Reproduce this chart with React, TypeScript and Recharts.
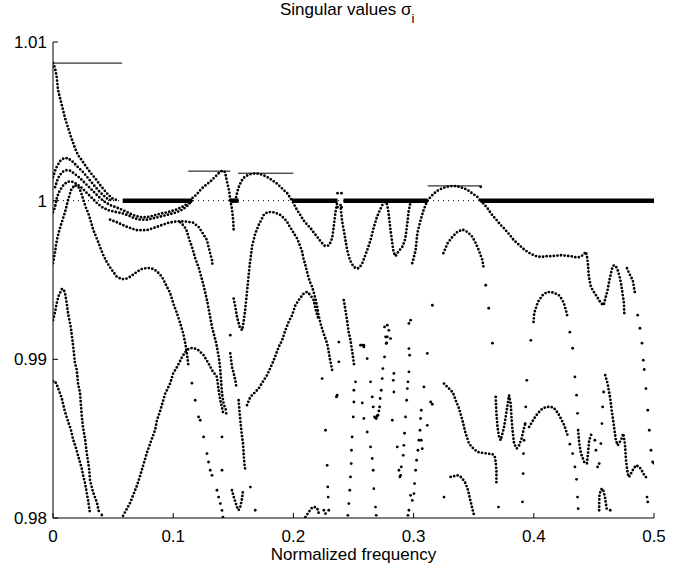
import React from 'react';
import { ComposedChart, Line, Scatter, XAxis, YAxis, ReferenceLine } from 'recharts';

type P = [number, number];

const xTicks = [0, 0.1, 0.2, 0.3, 0.4, 0.5];
const yTicks = [0.98, 0.99, 1, 1.01];
const unitLevel = 1;

// spans where several singular values sit on 1 (drawn as the thick band)
const unitSpans: [number, number][] = [[0.058, 0.1156], [0.1475, 0.1544], [0.1989, 0.2367], [0.2417, 0.3117], [0.3558, 0.5]];
// thin horizontal lines marking the local maxima
const peakLines: [number, number, number][] = [[0, 0.0575, 1.00867], [0.1125, 0.1475, 1.00186], [0.154, 0.2, 1.00173], [0.3117, 0.3567, 1.00093]];

const c1: P[] = [[0,1.00867],[0.0017,1.00835],[0.0031,1.00779],[0.0042,1.00697],[0.0073,1.00603],[0.01,1.0052],[0.015,1.00401],[0.0183,1.00331],[0.0208,1.00287],[0.0239,1.00255],[0.0267,1.00224],[0.0308,1.0018],[0.035,1.00142],[0.0392,1.00098],[0.0448,1.00047],[0.0489,1.00016],[0.0542,1]];
const h1: P[] = [[0,1.00148],[0.0025,1.00205],[0.0058,1.00249],[0.0092,1.00268],[0.0125,1.00268],[0.0167,1.00243],[0.0208,1.00211],[0.025,1.0018],[0.0292,1.00142],[0.0333,1.00104],[0.0375,1.00066],[0.0417,1.00035],[0.0458,1.00009],[0.05,1]];
const h2: P[] = [[0.0017,1.00085],[0.0042,1.00142],[0.0075,1.0018],[0.0108,1.00192],[0.0142,1.00189],[0.0183,1.00167],[0.0225,1.00142],[0.0267,1.0011],[0.0308,1.00079],[0.035,1.00047],[0.0392,1.00016],[0.0433,0.99991],[0.0475,0.99972],[0.0531,0.99956],[0.0573,0.99943],[0.062,0.99927],[0.067,0.99908],[0.0725,0.99896],[0.0781,0.99896],[0.0836,0.99905],[0.0892,0.99918],[0.0961,0.99929],[0.1031,0.99945],[0.1086,0.99965],[0.1128,0.99986],[0.1156,1]];
const h3: P[] = [[0,0.99927],[0.0017,0.99959],[0.0033,1.00022],[0.0058,1.00066],[0.0092,1.00104],[0.0125,1.0012],[0.0158,1.0012],[0.02,1.00104],[0.0242,1.00079],[0.0283,1.00047],[0.0325,1.00016],[0.0367,0.99984],[0.0408,0.99959],[0.0458,0.9994],[0.0531,0.99927],[0.0573,0.99921],[0.0625,0.99908],[0.0675,0.99889],[0.0725,0.9988],[0.0781,0.9988],[0.0836,0.99889],[0.0892,0.99899],[0.0958,0.99912],[0.1031,0.99927],[0.1083,0.99946],[0.1125,0.99972],[0.1156,1]];
const c4: P[] = [[0,0.99606],[0.0017,0.99675],[0.0025,0.99719],[0.0036,0.99764],[0.0053,0.99814],[0.0073,0.99864],[0.01,0.99927],[0.0125,1.00003],[0.015,1.00066],[0.0179,1.00098],[0.0211,1.00087],[0.0233,1.00054],[0.0253,1.00003],[0.0275,0.99953],[0.0294,0.9992],[0.0317,0.99864],[0.0336,0.99814],[0.0364,0.99762],[0.0392,0.99707],[0.0419,0.99656],[0.0448,0.99612],[0.0475,0.99579],[0.0503,0.99549],[0.0531,0.9952],[0.0573,0.99505],[0.0608,0.99508],[0.0642,0.9952],[0.0698,0.99551],[0.0733,0.99568],[0.0781,0.99576],[0.0817,0.99574],[0.085,0.99562],[0.0879,0.99543],[0.0906,0.9952],[0.0925,0.99492],[0.0948,0.99457],[0.0975,0.99417],[0.1,0.99354],[0.1031,0.99291],[0.1058,0.99228],[0.1083,0.99165],[0.11,0.99102],[0.1114,0.99039],[0.1128,0.98951]];
const c4Tail: P[] = [[0.1156,0.9885],[0.1183,0.98742],[0.1211,0.98637],[0.1225,0.98616],[0.1253,0.98511],[0.1281,0.98406],[0.1294,0.98353],[0.1308,0.98301],[0.1323,0.98269],[0.1364,0.98175],[0.1378,0.98132],[0.1392,0.98091],[0.1406,0.98048],[0.1414,0.98006]];
const c5: P[] = [[0,0.98862],[0.0017,0.98862],[0.0033,0.98837],[0.0058,0.98786],[0.0073,0.98755],[0.0092,0.98691],[0.0114,0.98635],[0.015,0.98553],[0.0167,0.98496],[0.0192,0.98439],[0.0208,0.98395],[0.0239,0.98313],[0.025,0.98269],[0.0267,0.98218],[0.0292,0.98111],[0.0308,0.98029]];
const c6: P[] = [[0,0.99247],[0.0017,0.99298],[0.0031,0.99354],[0.0046,0.99398],[0.0073,0.99442],[0.0088,0.99442],[0.01,0.99417],[0.0114,0.99354],[0.0125,0.99291],[0.0148,0.99203],[0.0167,0.99089],[0.0183,0.98976],[0.0198,0.98932],[0.0208,0.9885],[0.0225,0.98786],[0.0239,0.98648],[0.025,0.98572],[0.0267,0.98496],[0.0281,0.98408],[0.03,0.98313],[0.0308,0.98238],[0.0333,0.98163],[0.0364,0.981],[0.0383,0.98037]];
const v1: P[] = [[0.0583,0.98014],[0.0642,0.98096],[0.0698,0.98203],[0.0725,0.98266],[0.0781,0.98411],[0.0817,0.98487],[0.085,0.98556],[0.0864,0.98613],[0.0892,0.98676],[0.0933,0.98783],[0.0975,0.98849],[0.1,0.98912],[0.1031,0.9895],[0.1073,0.99013],[0.11,0.99045],[0.1125,0.99064],[0.1156,0.99072],[0.1183,0.99067],[0.1211,0.99057],[0.1253,0.99026],[0.1294,0.98974],[0.1323,0.98931],[0.1364,0.98889],[0.1378,0.98805],[0.1392,0.98742],[0.1414,0.98668],[0.1448,0.98658]];
const d3: P[] = [[0.0475,0.9988],[0.0531,0.99864],[0.0614,0.99835],[0.0698,0.99814],[0.0781,0.99814],[0.0864,0.99835],[0.0948,0.99858],[0.1,0.99866],[0.1058,0.99871],[0.1114,0.99868],[0.1167,0.99861],[0.1211,0.99835],[0.1239,0.99803],[0.1281,0.99751],[0.1294,0.99709],[0.1308,0.99667],[0.1323,0.99625],[0.1328,0.99583]];
const d3b: P[] = [[0.1058,0.99864],[0.1092,0.99839],[0.1114,0.99807],[0.1133,0.99757],[0.1156,0.99709],[0.1183,0.99637],[0.1211,0.99581],[0.1248,0.9948],[0.1281,0.99373],[0.1294,0.99322],[0.1308,0.99265],[0.1323,0.99202],[0.1336,0.99165],[0.1358,0.99102],[0.1378,0.99019],[0.1386,0.98975],[0.1392,0.98931],[0.1398,0.98868],[0.1406,0.98786],[0.1419,0.98723],[0.1433,0.9869],[0.1448,0.98668]];
const b1: P[] = [[0.1142,1],[0.1167,1.00022],[0.1198,1.00041],[0.1225,1.00066],[0.125,1.00085],[0.1281,1.00104],[0.1308,1.00119],[0.1333,1.00139],[0.1364,1.00161],[0.1383,1.00177],[0.1406,1.00188],[0.1425,1.00186],[0.1433,1.00173],[0.1448,1.00119],[0.1467,1.00055],[0.1475,1]];
const s1: P[] = [[0.1475,1],[0.1486,0.99959],[0.1494,0.99915],[0.15,0.99864],[0.1503,0.99814]];
const k1: P[] = [[0.1503,0.99383],[0.1517,0.9933],[0.1531,0.99267],[0.1553,0.99204],[0.1573,0.99183],[0.1586,0.99236],[0.16,0.9932],[0.1614,0.99425],[0.1636,0.99593],[0.1658,0.99719],[0.1683,0.99793],[0.1711,0.99846],[0.1753,0.99909],[0.1783,0.99927],[0.1823,0.99929],[0.1858,0.99921],[0.1892,0.99909],[0.1925,0.99887],[0.1948,0.99866],[0.1967,0.99839],[0.1989,0.99814],[0.2008,0.99789],[0.2031,0.99762],[0.2058,0.99709],[0.2073,0.99677],[0.2083,0.99637],[0.21,0.99593],[0.2114,0.99549],[0.2128,0.99509],[0.2142,0.9948],[0.2156,0.99456],[0.2169,0.99423],[0.2183,0.99383],[0.2198,0.9933],[0.2208,0.99284],[0.2225,0.99228],[0.225,0.99165],[0.2281,0.991],[0.2294,0.99047],[0.2303,0.99005],[0.2323,0.98931]];
const b2: P[] = [[0.1517,1],[0.1529,1.00041],[0.1542,1.00079],[0.1563,1.00117],[0.1583,1.00142],[0.1614,1.00158],[0.1642,1.00167],[0.1667,1.00171],[0.1698,1.00171],[0.1725,1.00167],[0.175,1.00161],[0.1783,1.00148],[0.1823,1.00129],[0.1858,1.0011],[0.1892,1.00087],[0.1925,1.00063],[0.1948,1.00047],[0.1967,1.00025],[0.1989,1],[0.2,0.99984],[0.2031,0.9994],[0.2058,0.99909],[0.2083,0.99877],[0.2114,0.99849],[0.2142,0.99827],[0.2167,0.99801],[0.2198,0.99772],[0.2225,0.99745],[0.2239,0.99732],[0.2258,0.99716],[0.2281,0.99713],[0.23,0.99723],[0.2323,0.99764],[0.2336,0.99839],[0.235,0.99927],[0.2367,1]];
const c8: P[] = [[0.2392,0.99972],[0.2404,0.99877],[0.2419,0.99814],[0.2433,0.99751],[0.2448,0.99688],[0.2463,0.99644],[0.2475,0.99619],[0.2496,0.9959],[0.2517,0.99574],[0.2542,0.99574],[0.2558,0.99587],[0.2573,0.99606],[0.2592,0.99644],[0.2614,0.99688],[0.2642,0.99751],[0.2667,0.99827],[0.2692,0.9989],[0.2708,0.99921],[0.2739,0.99972],[0.2767,1]];
const c9: P[] = [[0.2767,1],[0.2781,0.99972],[0.2792,0.99921],[0.2808,0.99814],[0.2823,0.99732],[0.2833,0.99675],[0.285,0.9965],[0.2864,0.99669],[0.2883,0.99688],[0.2906,0.99709],[0.2925,0.99745],[0.2933,0.99772],[0.2948,0.99858],[0.2958,0.99929],[0.2971,0.99978]];
const c10: P[] = [[0.2989,0.99606],[0.3,0.99637],[0.3017,0.99688],[0.3031,0.99795],[0.3058,0.99877],[0.3083,0.9994],[0.3114,1]];
const b3: P[] = [[0.3117,1],[0.3133,1.00016],[0.3156,1.00035],[0.3192,1.0006],[0.3225,1.00073],[0.325,1.00081],[0.3283,1.00088],[0.3323,1.00093],[0.3358,1.00091],[0.3392,1.00085],[0.3425,1.00076],[0.3458,1.00062],[0.3492,1.00044],[0.3531,1.00024],[0.3558,1]];
const e1: P[] = [[0.3558,1],[0.3586,0.99978],[0.3614,0.99953],[0.3642,0.99921],[0.3667,0.99898],[0.3698,0.99871],[0.3725,0.99846],[0.375,0.99827],[0.3781,0.99801],[0.3808,0.99776],[0.3833,0.99751],[0.3875,0.99723],[0.3917,0.99694],[0.3958,0.99672],[0.4,0.99656],[0.4033,0.99647],[0.4073,0.99646],[0.4108,0.9965],[0.4142,0.9965],[0.4183,0.99653],[0.4225,0.99656],[0.4267,0.99653],[0.4308,0.9965],[0.4342,0.99644],[0.4375,0.99644],[0.4408,0.99656],[0.4433,0.99677],[0.4442,0.9965],[0.445,0.99606],[0.4458,0.9952],[0.4475,0.99456],[0.4496,0.99429],[0.4517,0.99404],[0.4538,0.99379],[0.4558,0.99354],[0.4581,0.99341],[0.4596,0.99385],[0.4614,0.99436],[0.4629,0.99499],[0.4642,0.99543],[0.4654,0.99581],[0.4667,0.99593],[0.4683,0.99587],[0.4698,0.99562],[0.4713,0.99524],[0.4725,0.9948],[0.4738,0.99417],[0.475,0.99354],[0.4753,0.99291]];
const e2: P[] = [[0.3248,0.99669],[0.3283,0.99732],[0.3323,0.99772],[0.3364,0.99803],[0.3406,0.99818],[0.3448,0.99803],[0.3489,0.99772],[0.3517,0.99732],[0.3542,0.99688],[0.3573,0.99625],[0.3583,0.99574]];
const e2Steep: P[] = [[0.36,0.99467],[0.3625,0.99322],[0.3656,0.99102],[0.2975,0.98143],[0.2989,0.98111],[0.3003,0.98154],[0.3008,0.98217],[0.3017,0.98301],[0.3025,0.98364],[0.3036,0.98427],[0.3044,0.9849],[0.3053,0.98553],[0.3058,0.98627],[0.3064,0.98679],[0.3086,0.98826],[0.3114,0.99037],[0.3156,0.99341]];
const e5: P[] = [[0.3683,0.98763],[0.3689,0.98658],[0.3698,0.98574],[0.3711,0.98511],[0.3725,0.9849],[0.3739,0.98532],[0.3753,0.98574],[0.3775,0.98679],[0.3794,0.98773],[0.3808,0.98721],[0.3814,0.98637],[0.3823,0.98553],[0.3836,0.98469],[0.3858,0.98438],[0.3878,0.98458],[0.3898,0.985],[0.3914,0.98553],[0.3933,0.98605]];
const e4: P[] = [[0.3961,0.98574],[0.3975,0.98591],[0.4003,0.98627],[0.4031,0.98658],[0.4073,0.9869],[0.4108,0.987],[0.4142,0.987],[0.4164,0.98696],[0.4183,0.98679],[0.4203,0.98658],[0.4225,0.98627],[0.4253,0.98585],[0.4281,0.98522]];
const e4Tail: P[] = [[0.43,0.98465],[0.4323,0.98406],[0.4342,0.98322],[0.4356,0.98244],[0.4364,0.98132],[0.4369,0.98059]];
const e3Steep: P[] = [[0.3906,0.98101],[0.3911,0.9828],[0.3914,0.98406],[0.3919,0.9849],[0.3928,0.98595],[0.3933,0.987],[0.3942,0.98868],[0.3975,0.9912],[0.43,0.99171],[0.4323,0.9907],[0.4342,0.98889],[0.4356,0.98774],[0.4364,0.9866],[0.4508,0.9849],[0.4517,0.98427]];
const e3: P[] = [[0.3998,0.99236],[0.4003,0.99289],[0.4033,0.9936],[0.4073,0.99404],[0.4108,0.99423],[0.4142,0.99425],[0.4175,0.99417],[0.4208,0.99404],[0.4233,0.99379],[0.425,0.99354],[0.4267,0.9931],[0.4281,0.99267]];
const e3Low: P[] = [[0.4369,0.98553],[0.4378,0.98471],[0.4392,0.98408],[0.4419,0.98353],[0.4442,0.98343],[0.4448,0.98385],[0.4461,0.9849],[0.4481,0.98532]];
const e6Steep: P[] = [[0.4531,0.98322],[0.4544,0.98343],[0.4558,0.98469],[0.4567,0.98595],[0.4573,0.987],[0.4581,0.98794]];
const e6: P[] = [[0.4594,0.989],[0.4614,0.98847],[0.4636,0.98753],[0.4648,0.98679],[0.4664,0.98595],[0.4683,0.9849],[0.4698,0.98458],[0.4725,0.9849],[0.4744,0.98532],[0.4758,0.98469],[0.4767,0.98364],[0.4781,0.9828],[0.4792,0.98257],[0.4823,0.98301],[0.485,0.98332],[0.4878,0.98322],[0.4906,0.9829],[0.4919,0.98269]];
const e7: P[] = [[0.4544,0.98049],[0.4544,0.98091],[0.4546,0.98143],[0.4558,0.98179],[0.4573,0.98185],[0.4583,0.98162],[0.4592,0.98132],[0.46,0.98091],[0.4608,0.98049]];
const e8: P[] = [[0.4775,0.99574],[0.4794,0.99541],[0.4823,0.99499],[0.4842,0.99415]];
const e8Steep: P[] = [[0.4864,0.99278],[0.4883,0.99196],[0.49,0.99102],[0.4911,0.98995],[0.4919,0.98936],[0.4933,0.98816],[0.4948,0.98679],[0.4961,0.98553],[0.4975,0.98427],[0.4989,0.98353],[0.5,0.98345]];
const f9: P[] = [[0.3253,0.98847],[0.3323,0.98794],[0.3336,0.98774],[0.335,0.98742],[0.3378,0.9869],[0.3406,0.98616],[0.3433,0.98532],[0.3448,0.985],[0.3461,0.98469],[0.3489,0.98444],[0.3531,0.98416],[0.3573,0.9841],[0.3614,0.98406],[0.3656,0.98402],[0.3675,0.98389],[0.3683,0.98353],[0.3689,0.98301],[0.3689,0.98217]];
const f8: P[] = [[0.3308,0.98259],[0.3336,0.98263],[0.3364,0.98269],[0.3392,0.98259],[0.3406,0.98248],[0.3433,0.98217],[0.3453,0.98175],[0.3475,0.98101],[0.3503,0.98017]];
const r1: P[] = [[0.1614,0.98711],[0.1642,0.98763],[0.1683,0.98794],[0.1711,0.98816],[0.1753,0.98868],[0.1781,0.989],[0.1831,0.98984],[0.1878,0.99078],[0.1906,0.9912],[0.1933,0.99183],[0.1961,0.99236],[0.1989,0.99278],[0.2017,0.99341],[0.2044,0.99373],[0.2086,0.99415],[0.2114,0.99425],[0.2142,0.99404],[0.2169,0.99373],[0.2183,0.9932],[0.2211,0.99247]];
const g2: P[] = [[0.1475,0.99037],[0.1489,0.98952],[0.15,0.98921],[0.1517,0.98868],[0.1525,0.98826]];
const g4: P[] = [[0.1544,0.98742],[0.1553,0.98658],[0.1564,0.98574],[0.1573,0.98511],[0.1581,0.98469],[0.1586,0.98406],[0.1592,0.98343],[0.16,0.98301]];
const lowV: P[] = [[0.1489,0.98175],[0.15,0.98143],[0.1517,0.98101],[0.1531,0.98069],[0.1544,0.98049],[0.1558,0.98069],[0.1573,0.98123],[0.1581,0.98175]];
const lowArc: P[] = [[0.21,0.98006],[0.2128,0.98038],[0.2156,0.98066],[0.2183,0.98069],[0.2203,0.98053],[0.2211,0.98028]];
const f1: P[] = [[0.2419,0.99373],[0.2433,0.9931],[0.2448,0.99236],[0.2461,0.99163],[0.2468,0.99146],[0.2475,0.9912],[0.2479,0.99102],[0.2483,0.99078],[0.2489,0.99051],[0.2494,0.99026],[0.2498,0.99001],[0.2503,0.98975],[0.2508,0.9895]];
const f1Steep: P[] = [[0.2517,0.98858],[0.2503,0.98805],[0.2503,0.98731],[0.2498,0.98637],[0.2489,0.98511],[0.2483,0.98427],[0.2481,0.98343],[0.2475,0.98259],[0.2469,0.98175],[0.2461,0.98091],[0.2453,0.98017]];
const f3: P[] = [[0.2675,0.98637],[0.2682,0.98632],[0.2689,0.98627],[0.2697,0.98643],[0.2703,0.98648],[0.2711,0.98675],[0.2717,0.987],[0.2722,0.98753],[0.2731,0.98805],[0.2739,0.98879],[0.2744,0.98942],[0.2758,0.99015],[0.2772,0.991],[0.2767,0.99141],[0.2758,0.99204]];
const f13: P[] = [[0.2614,0.98542],[0.2642,0.98448],[0.2656,0.98375],[0.2664,0.98301],[0.2669,0.98185],[0.2683,0.98069],[0.2689,0.98017],[0.2642,0.98858],[0.2656,0.98763],[0.2664,0.987],[0.2573,0.99089],[0.2586,0.99078],[0.2614,0.99005]];
const f5: P[] = [[0.2961,0.99226],[0.2975,0.99247],[0.2961,0.99068],[0.2967,0.99026],[0.2961,0.98921],[0.2953,0.98858],[0.2948,0.98816],[0.2942,0.98742],[0.2933,0.98637],[0.2925,0.98534],[0.2919,0.98458],[0.2914,0.98395],[0.2898,0.98322],[0.2886,0.98259],[0.2878,0.98301],[0.2961,0.98049],[0.2953,0.98017]];
const col229: P[] = [[0.2267,0.98553],[0.2281,0.98332],[0.2286,0.98196],[0.2289,0.98132],[0.2294,0.98049],[0.2253,0.98049],[0.2267,0.98028],[0.2239,0.98879]];
const strayDots: P[] = [[0.3558,1.00087],[0.2367,1.00047],[0.24,1.00047],[0.2367,0.99959],[0.24,0.99959],[0.1475,0.99152],[0.1406,0.98511],[0.1406,0.98301],[0.1642,0.98195],[0.1683,0.98049],[0.2378,0.99109],[0.2558,0.99089],[0.2586,0.99089],[0.2781,0.99215],[0.2794,0.99183],[0.2781,0.99141],[0.2775,0.99103],[0.2808,0.99131],[0.2378,0.98984],[0.2358,0.98763],[0.2364,0.98774],[0.3253,0.98132],[0.3706,0.98069],[0.4933,0.98258],[0.4942,0.98132],[0.4948,0.98101],[0.4636,0.98049],[0.3114,0.98584],[0.3142,0.98731],[0.3156,0.98717],[0.3064,0.9849],[0.3072,0.98437],[0.2864,0.98448],[0.2892,0.98269],[0.2836,0.98911],[0.2831,0.98868],[0.2836,0.98794],[0.2823,0.98616],[0.2586,0.98627],[0.2573,0.98725],[0.0406,0.98019]];

const denseCurves: P[][] = [c1, h1, h2, h3, c4, c5, c6, v1, d3, d3b, b1, s1, k1, b2, c8, c9, c10, b3, e1, e2, e5, e4, e3, e3Low, e6, e7, e8, f9, f8, r1, g2, g4, lowV, lowArc, f1];
const sparseSets: P[][] = [c4Tail, e2Steep, e4Tail, e3Steep, e6Steep, e8Steep, f1Steep, f3, f13, f5, col229, strayDots];

const toRows = (pts: P[]) => pts.map(([x, y]) => ({ x, y }));
const FONT = '"Liberation Sans", Arial, Helvetica, sans-serif';
const tickStyle = { fontSize: 17, fill: '#000', fontFamily: FONT };

const Dot = (p: any) => <circle cx={p.cx} cy={p.cy} r={1.4} fill="#000" />;

export default function App() {
  return (
    <div style={{ position: 'absolute', left: 0, top: 0, width: 695, height: 568, background: '#fff' }}>
      <div style={{ position: 'absolute', left: 280, top: 1, fontFamily: FONT, fontSize: 17, lineHeight: '17px', whiteSpace: 'nowrap', color: '#000' }}>
        Singular values σ<span style={{ fontSize: 13, position: 'relative', top: 8, color: '#000' }}>i</span>
      </div>
      <div style={{ position: 'absolute', left: 0, width: 707, top: 548, textAlign: 'center', fontFamily: FONT, fontSize: 17, lineHeight: '13px', color: '#000' }}>
        Normalized frequency
      </div>
      <ComposedChart width={695} height={568} margin={{ top: 42, right: 41, bottom: 20, left: 0 }}>
        <XAxis dataKey="x" type="number" domain={[0, 0.5]} ticks={xTicks} allowDataOverflow
          tickFormatter={(v: number) => String(v)} tick={tickStyle} tickSize={-5} tickMargin={17}
          axisLine={{ stroke: '#000' }} tickLine={{ stroke: '#000' }} height={30} />
        <XAxis xAxisId="top" orientation="top" dataKey="x" type="number" domain={[0, 0.5]} ticks={xTicks} allowDataOverflow
          tickFormatter={() => ''} tickSize={-5} height={0} axisLine={{ stroke: '#000' }} tickLine={{ stroke: '#000' }} />
        <YAxis dataKey="y" type="number" domain={[0.98, 1.01]} ticks={yTicks} allowDataOverflow
          tickFormatter={(v: number) => String(v)} tick={tickStyle} tickSize={-5} tickMargin={11}
          axisLine={{ stroke: '#000' }} tickLine={{ stroke: '#000' }} width={53} />
        <YAxis yAxisId="right" orientation="right" dataKey="y" type="number" domain={[0.98, 1.01]} ticks={yTicks} allowDataOverflow
          tickFormatter={() => ''} tickSize={-5} width={0} axisLine={{ stroke: '#000' }} tickLine={{ stroke: '#000' }} />
        <ReferenceLine y={unitLevel} stroke="#000" strokeWidth={1} strokeDasharray="1 4" />
        {peakLines.map(([a, b, y], i) => (
          <Line key={'pk' + i} data={[{ x: a, y }, { x: b, y }]} dataKey="y" type="linear" stroke="#000" strokeWidth={1}
            dot={false} activeDot={false} isAnimationActive={false} />
        ))}
        {unitSpans.map(([a, b], i) => (
          <Line key={'u' + i} data={[{ x: a, y: unitLevel }, { x: b, y: unitLevel }]} dataKey="y" type="linear" stroke="#000" strokeWidth={4.5}
            dot={false} activeDot={false} isAnimationActive={false} />
        ))}
        {denseCurves.map((c, i) => (
          <Line key={'c' + i} data={toRows(c)} dataKey="y" type="linear" stroke="#000" strokeWidth={2.8}
            strokeDasharray="0 3.6" strokeLinecap="round" dot={false} activeDot={false} isAnimationActive={false} />
        ))}
        {sparseSets.map((s, i) => (
          <Scatter key={'s' + i} data={toRows(s)} dataKey="y" shape={Dot} isAnimationActive={false} />
        ))}
      </ComposedChart>
    </div>
  );
}
